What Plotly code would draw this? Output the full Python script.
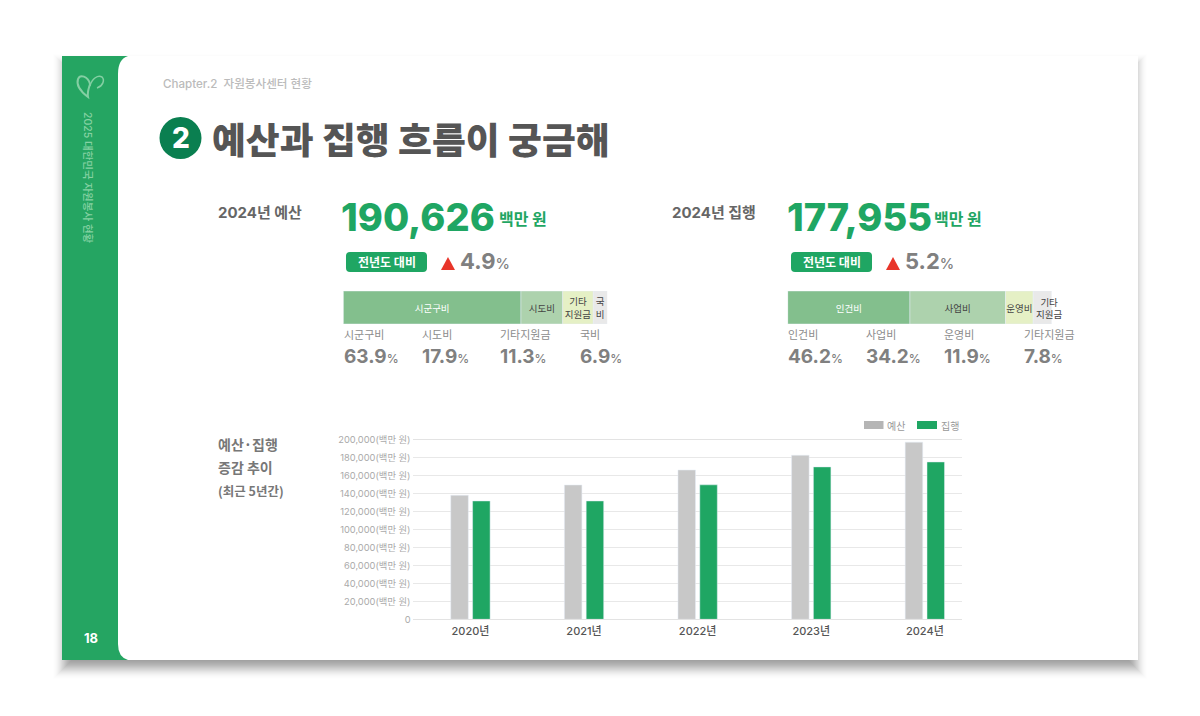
import numpy as np
import plotly.graph_objects as go

# trend chart
years = ["2020년", "2021년", "2022년", "2023년", "2024년"]
budget = [138300, 149800, 166500, 183000, 197600]
spent = [132000, 132000, 150000, 170000, 175500]
tick_vals = [0, 20000, 40000, 60000, 80000, 100000, 120000, 140000, 160000, 180000, 200000]
tick_text = ["0", "20,000(백만 원)", "40,000(백만 원)", "60,000(백만 원)", "80,000(백만 원)", "100,000(백만 원)",
             "120,000(백만 원)", "140,000(백만 원)", "160,000(백만 원)", "180,000(백만 원)", "200,000(백만 원)"]

# stacked strips (drawn widths differ from the printed shares, so they are kept apart)
budget_parts = ["시군구비", "시도비", "기타<br>지원금", "국<br>비"]
budget_widths = [67.3, 15.8, 11.6, 5.3]
budget_names = ["시군구비", "시도비", "기타지원금", "국비"]
budget_shares = ["63.9", "17.9", "11.3", "6.9"]

spent_parts = ["인건비", "사업비", "운영비", ""]
spent_widths = [46.3, 36.2, 10.5, 7.0]
spent_names = ["인건비", "사업비", "운영비", "기타지원금"]
spent_shares = ["46.2", "34.2", "11.9", "7.8"]

GREEN = "#1fa663"
GREY_TXT = "#808080"
seg_colors = ["#83bf8d", "#add2ad", "#e5f0c5", "#e9e9e9"]
seg_text = ["#ffffff", "#444444", "#444444", "#444444"]
SANS = "Inter, 'Noto Sans CJK KR', sans-serif"
KR = "'Noto Sans CJK KR', sans-serif"
W, H = 1200, 716
NO_LINE = dict(width=0)


def fx(px):
    return px / W


def fy(py):
    return 1 - py / H


def rect(x0, y0, x1, y1, color, layer="below", opacity=1):
    return dict(type="rect", xref="paper", yref="paper", x0=fx(x0), x1=fx(x1), y0=fy(y0), y1=fy(y1),
                fillcolor=color, line=NO_LINE, layer=layer, opacity=opacity)


def pth(points, **kw):
    # points: list of (command, px, py, ...) in page pixels
    parts = []
    for p in points:
        nums = p[1:]
        xy = [f"{fx(nums[i]):.5f},{fy(nums[i + 1]):.5f}" for i in range(0, len(nums), 2)]
        parts.append(p[0] + " ".join(xy))
    return dict(type="path", xref="paper", yref="paper", path=" ".join(parts), **kw)


def pill(x0, x1, y0, y1, r, color):
    return pth([("M", x0 + r, y0), ("L", x1 - r, y0), ("Q", x1, y0, x1, y0 + r), ("L", x1, y1 - r),
                ("Q", x1, y1, x1 - r, y1), ("L", x0 + r, y1), ("Q", x0, y1, x0, y1 - r), ("L", x0, y0 + r),
                ("Q", x0, y0, x0 + r, y0), ("Z",)], fillcolor=color, line=NO_LINE, layer="below")


def label(x, y, text, size, color, anchor="left", weight=400, family=KR, angle=0):
    # left aligned text sits about a pixel right of where it is asked for
    if anchor == "left":
        x = x - 1
    return dict(xref="paper", yref="paper", x=fx(x), y=fy(y), text=text,
                showarrow=False, xanchor=anchor, yanchor="middle", textangle=angle, borderpad=0,
                font=dict(size=size, color=color, family=family, weight=weight))


fig = go.Figure()

# grouped trend bars
fig.add_trace(go.Bar(x=years, y=budget, name="예산", marker_color="#c8c8c8", offsetgroup="b",
                     xaxis="x", yaxis="y", showlegend=False))
fig.add_trace(go.Bar(x=years, y=spent, name="집행", marker_color=GREEN, offsetgroup="s",
                     xaxis="x", yaxis="y", showlegend=False))

# the two stacked strips
for axis, row, parts, widths in [("2", "예산", budget_parts, budget_widths), ("3", "집행", spent_parts, spent_widths)]:
    bases = np.concatenate([[0], np.cumsum(widths)[:-1]])
    for i in range(4):
        fig.add_trace(go.Bar(y=[row], x=[widths[i]], base=[bases[i]], orientation="h", width=1,
                             offsetgroup="strip", marker_color=seg_colors[i], text=[parts[i]],
                             textposition="inside", insidetextanchor="middle", constraintext="none",
                             textangle=0, cliponaxis=False,
                             textfont=dict(size=9.5, color=seg_text[i], family=KR),
                             xaxis="x" + axis, yaxis="y" + axis, showlegend=False, hoverinfo="skip"))

# page furniture, soft shadow from stacked faint rects (opacity, rgba alpha gets rounded)
shapes = []
for grow in range(14, -13, -1):
    shapes.append(rect(65 - grow, 66 - grow, 1135 + grow, 667 + grow, "#000000",
                       opacity=0.03 * (1 - (grow / 15) ** 2) ** 2))
shapes.append(rect(62, 56, 1138, 660, "#ffffff"))
shapes.append(rect(62, 56, 118, 660, "#25a562"))
# white panel with curved left corners leaves the green bit behind them
shapes.append(pth([("M", 118, 56), ("L", 128, 56), ("Q", 118, 59, 118, 74), ("Z",)],
                  fillcolor="#25a562", line=NO_LINE, layer="below"))
shapes.append(pth([("M", 118, 660), ("L", 128, 660), ("Q", 118, 657, 118, 644), ("Z",)],
                  fillcolor="#25a562", line=NO_LINE, layer="below"))

# heart logo
shapes.append(pth([("M", 88, 97), ("C", 80, 91, 76, 85, 78, 79), ("C", 80, 74, 88, 76, 90, 84), ("C", 89, 88, 87, 92, 88, 97), ("Z",)],
                  fillcolor="rgba(0,0,0,0)", line=dict(color="#84cfa3", width=2), layer="below"))
shapes.append(pth([("M", 90, 86), ("C", 92, 78, 98, 75, 102, 77), ("C", 105, 80, 103, 86, 97, 88)],
                  fillcolor="rgba(0,0,0,0)", line=dict(color="#84cfa3", width=1.5), layer="below"))

# title circle
shapes.append(dict(type="circle", xref="paper", yref="paper", x0=fx(159.5), x1=fx(201.5), y0=fy(159), y1=fy(117),
                   fillcolor="#0a7f50", line=NO_LINE, layer="below"))

# pills and red triangles
for x0 in [346, 791]:
    shapes.append(pill(x0, x0 + 81, 252, 272, 4, GREEN))
for x0 in [441, 886]:
    shapes.append(pth([("M", x0, 270), ("L", x0 + 14, 270), ("L", x0 + 7, 257), ("Z",)],
                      fillcolor="#e8352a", line=NO_LINE, layer="below"))

# legend swatches
shapes.append(rect(864, 421, 883.5, 429, "#b5b5b5"))
shapes.append(rect(917, 421, 937, 429, GREEN))

notes = [
    label(163, 84, "Chapter.2  자원봉사센터 현황", 11.6, "#bbbbbb", weight=500, family=SANS),
    label(180.5, 138, "2", 28, "#ffffff", "center", 800, SANS),
    label(212, 138, "예산과 집행 흐름이 궁금해", 36.8, "#555555", weight=900),
    label(88, 178, "2025 대한민국 자원봉사 현황", 10.5, "#86d2a3", "center", weight=500, family=SANS, angle=90),
    label(91, 638, "18", 13, "#ffffff", "center", 700, SANS),
    label(218, 213, "2024년 예산", 15, "#666666", weight=700, family=SANS),
    label(672, 213, "2024년 집행", 15, "#666666", weight=700, family=SANS),
    label(341, 217, "190,626", 38, GREEN, weight=800, family=SANS),
    label(499, 218, "백만 원", 16, GREEN, weight=700),
    label(787, 217, "177,955", 38, GREEN, weight=800, family=SANS),
    label(934, 218, "백만 원", 16, GREEN, weight=700),
    label(386.5, 262, "전년도 대비", 12, "#ffffff", "center", 700),
    label(831.5, 262, "전년도 대비", 12, "#ffffff", "center", 700),
    label(460, 261, "4.9<span style='font-size:14.5px;font-weight:500'>%</span>", 22, GREY_TXT, weight=700, family=SANS),
    label(905, 261, "5.2<span style='font-size:14.5px;font-weight:500'>%</span>", 22, GREY_TXT, weight=700, family=SANS),
    label(218, 444, "예산·집행", 14, "#777777", weight=700),
    label(218, 467, "증감 추이", 14, "#777777", weight=700),
    label(218, 490, "(최근 5년간)", 12.5, "#777777", weight=700),
    label(887, 425, "예산", 10, "#999999"),
    label(941, 425, "집행", 10, "#999999"),
    label(1049, 307.5, "기타<br>지원금", 9.5, "#444444", "center"),
]
for xs, names, shares in [([344, 422, 500, 580], budget_names, budget_shares),
                          ([787.5, 866.5, 944, 1024], spent_names, spent_shares)]:
    for x, name, share in zip(xs, names, shares):
        notes.append(label(x, 334, name, 11, "#8c8c8c"))
        notes.append(label(x, 356, f"{share}<span style='font-size:12px;font-weight:500'>%</span>", 19, GREY_TXT,
                           weight=700, family=SANS))

hidden = dict(visible=False, fixedrange=True, automargin=False)
fig.update_layout(
    width=W, height=H, margin=dict(l=0, r=0, t=0, b=0, autoexpand=False), paper_bgcolor="#ffffff",
    plot_bgcolor="rgba(0,0,0,0)",
    barmode="group", bargap=0.616, bargroupgap=0.197, showlegend=False, shapes=shapes, annotations=notes,
    xaxis=dict(domain=[fx(412.5), fx(962)], range=[-0.51, 4.327], type="category", showgrid=False, ticks="",
               showline=True, mirror=True, linecolor="#e3e3e3", linewidth=1, automargin=False, ticklabelstandoff=1,
               tickfont=dict(size=11, color="#555555", family=SANS, weight=500)),
    yaxis=dict(domain=[fy(619.3), fy(440)], range=[0, 200000], tickvals=tick_vals, ticktext=tick_text,
               gridcolor="#e8e8e8", gridwidth=1, zeroline=False, ticks="", automargin=False, ticklabelstandoff=1,
               tickfont=dict(size=9.3, color="#aaaaaa", family=SANS)),
    xaxis2=dict(domain=[fx(343.3), fx(607.3)], range=[0, 100], anchor="y2", **hidden),
    yaxis2=dict(domain=[fy(324), fy(291)], range=[-0.5, 0.5], type="category", anchor="x2", **hidden),
    xaxis3=dict(domain=[fx(787.7), fx(1051.7)], range=[0, 100], anchor="y3", **hidden),
    yaxis3=dict(domain=[fy(324), fy(291)], range=[-0.5, 0.5], type="category", anchor="x3", **hidden),
)

fig.write_html("out.html", config={"displayModeBar": False},
               post_script="document.body.style.margin='0';document.body.style.overflow='hidden';")
